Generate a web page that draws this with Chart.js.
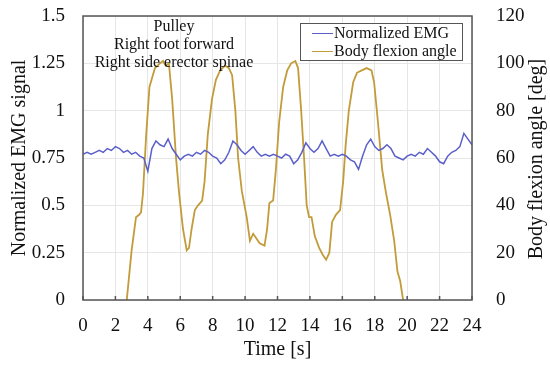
<!DOCTYPE html>
<html>
<head>
<meta charset="utf-8">
<script src="https://cdn.jsdelivr.net/npm/chart.js@4"></script>
<style>
  body { margin: 0; background: #fff; }
  #wrap { position: relative; width: 550px; height: 366px; }
  .note { position: absolute; font-family: "Liberation Serif", serif; font-size: 16px; color: #111; text-align: center; line-height: 18px; }
  #legend { position: absolute; left: 300px; top: 23px; width: 161px; height: 36px; border: 1px solid #555; background: #fff;
            font-family: "Liberation Serif", serif; font-size: 16px; color: #111; }
  #legend div { position: relative; height: 18px; line-height: 18px; padding-left: 33px; }
  #legend span { position: absolute; left: 11px; top: 9px; width: 21px; height: 0; border-top: 1.5px solid; }
  #rtitle { position: absolute; left: 535px; top: 159px; width: 260px; margin-left: -130px; margin-top: -11px; height: 22px; line-height: 22px;
            transform: rotate(-90deg); text-align: center; font-family: "Liberation Serif", serif; font-size: 20px; color: #111; white-space: nowrap; }
</style>
</head>
<body>
<div id="wrap">
  <canvas id="chart" width="550" height="366"></canvas>
  <div class="note" style="left:74px; top:17px; width:200px;">Pulley<br>Right foot forward<br>Right side erector spinae</div>
  <div id="legend">
    <div><span style="border-color:#5b5fc9"></span>Normalized EMG</div>
    <div><span style="border-color:#c29b3b"></span>Body flexion angle</div>
  </div>
  <div id="rtitle">Body flexion angle [deg]</div>
</div>
<script>
// time axis [s]
const xTicks = [0, 2, 4, 6, 8, 10, 12, 14, 16, 18, 20, 22, 24];
const emgTicks = [0, 0.25, 0.5, 0.75, 1, 1.25, 1.5];
const angleTicks = [0, 20, 40, 60, 80, 100, 120];

// normalized EMG, sampled every 0.25 s
const emgTime = [];
for (let i = 0; i <= 96; i++) emgTime.push(i * 0.25);
const emgValues = [
  0.77, 0.78, 0.77, 0.78, 0.79, 0.78, 0.80, 0.79, 0.81, 0.80, 0.78, 0.79,
  0.77, 0.78, 0.76, 0.75, 0.68, 0.80, 0.84, 0.82, 0.81, 0.85, 0.80, 0.77,
  0.74, 0.76, 0.77, 0.76, 0.78, 0.77, 0.79, 0.78, 0.76, 0.75, 0.72, 0.74,
  0.78, 0.84, 0.82, 0.79, 0.77, 0.79, 0.81, 0.78, 0.76, 0.77, 0.76, 0.77,
  0.76, 0.75, 0.77, 0.76, 0.72, 0.74, 0.78, 0.83, 0.80, 0.78, 0.80, 0.84,
  0.80, 0.76, 0.77, 0.76, 0.77, 0.76, 0.74, 0.73, 0.69, 0.76, 0.82, 0.85,
  0.81, 0.79, 0.80, 0.82, 0.80, 0.76, 0.75, 0.74, 0.76, 0.77, 0.76, 0.78,
  0.77, 0.80, 0.78, 0.76, 0.73, 0.72, 0.76, 0.78, 0.79, 0.81, 0.88, 0.85,
  0.82
];

// body flexion angle [deg]
const angleTime = [
  2.7, 3.0, 3.27, 3.46, 3.58, 3.7, 3.9, 4.1, 4.44, 4.75, 4.94, 5.1, 5.3, 5.5,
  5.74, 5.93, 6.17, 6.4, 6.54, 6.7, 6.9, 7.1, 7.35, 7.5, 7.7, 7.96, 8.2, 8.46,
  8.77, 9.0, 9.2, 9.4, 9.57, 9.8, 10.1, 10.3, 10.5, 10.7, 10.9, 11.2, 11.36,
  11.5, 11.73, 11.9, 12.1, 12.35, 12.6, 12.84, 13.1, 13.27, 13.46, 13.64, 13.8,
  13.95, 14.1, 14.3, 14.57, 14.8, 15.0, 15.2, 15.37, 15.6, 15.86, 16.05, 16.2,
  16.4, 16.67, 16.9, 17.2, 17.5, 17.8, 17.96, 18.2, 18.46, 18.7, 18.95, 19.2,
  19.4, 19.57, 19.75
];
const angleValues = [
  0, 21, 35, 36, 37, 45, 70, 90, 98, 100, 101, 99, 100, 85,
  60, 45, 30, 21, 22, 30, 38, 40, 42, 50, 70, 85, 93, 97,
  99, 98, 95, 80, 60, 46, 35, 25, 28, 26, 24, 23, 30,
  41, 42, 55, 75, 90, 97, 100, 101, 98, 80, 60, 40,
  35, 35, 27, 22, 19, 17, 20, 33, 36, 38, 50, 65,
  80, 92, 96, 97, 98, 97, 92, 75, 55, 45, 36, 25,
  12, 8, 0
];

const serif = '"Liberation Serif", "Times New Roman", serif';

const frame = {
  id: 'frame',
  afterDatasetsDraw(chart) {
    const a = chart.chartArea;
    const ctx = chart.ctx;
    ctx.save();
    ctx.strokeStyle = '#555';
    ctx.lineWidth = 1.5;
    ctx.strokeRect(a.left, a.top, a.right - a.left, a.bottom - a.top);
    // small inward ticks on the time axis
    const xs = chart.scales.x;
    ctx.beginPath();
    xTicks.forEach(v => {
      const px = xs.getPixelForValue(v);
      ctx.moveTo(px, a.bottom);
      ctx.lineTo(px, a.bottom - 4);
    });
    ctx.stroke();
    ctx.restore();
  }
};

// fixed box sizes so the plot area matches the original frame
const fitY = w => s => { s.width = w; s.paddingTop = 0; s.paddingBottom = 0; };

new Chart(document.getElementById('chart'), {
  type: 'line',
  data: {
    datasets: [
      {
        label: 'Normalized EMG',
        data: emgTime.map((t, i) => ({ x: t, y: emgValues[i] })),
        borderColor: '#5b5fc9',
        borderWidth: 1.5,
        pointRadius: 0,
        yAxisID: 'y'
      },
      {
        label: 'Body flexion angle',
        data: angleTime.map((t, i) => ({ x: t, y: angleValues[i] })),
        borderColor: '#c29b3b',
        borderWidth: 1.8,
        pointRadius: 0,
        yAxisID: 'y1'
      }
    ]
  },
  options: {
    responsive: false,
    animation: false,
    layout: { padding: { top: 16 } },
    plugins: { legend: { display: false }, tooltip: { enabled: false } },
    scales: {
      x: {
        type: 'linear', min: 0, max: 24,
        afterBuildTicks: s => { s.ticks = xTicks.map(v => ({ value: v })); },
        afterFit: s => { s.height = 66; s.paddingLeft = 0; s.paddingRight = 0; },
        grid: { color: '#e6e6e6', drawTicks: false },
        border: { display: false },
        ticks: { color: '#111', font: { family: serif, size: 19 }, padding: 15, maxRotation: 0 },
        title: { display: true, text: 'Time [s]', color: '#111', font: { family: serif, size: 20 }, padding: { top: 0 } }
      },
      y: {
        position: 'left', min: 0, max: 1.5,
        afterBuildTicks: s => { s.ticks = emgTicks.map(v => ({ value: v })); },
        afterFit: fitY(83),
        grid: { color: '#e6e6e6', drawTicks: false },
        border: { display: false },
        ticks: { color: '#111', font: { family: serif, size: 19 }, padding: 18, callback: v => String(v) },
        title: { display: true, text: 'Normalized EMG signal', color: '#111', font: { family: serif, size: 20 }, padding: { top: 8, bottom: 0 } }
      },
      y1: {
        position: 'right', min: 0, max: 120,
        afterBuildTicks: s => { s.ticks = angleTicks.map(v => ({ value: v })); },
        afterFit: fitY(78),
        grid: { display: false },
        border: { display: false },
        ticks: { color: '#111', font: { family: serif, size: 19 }, padding: 16 }
      }
    }
  },
  plugins: [frame]
});
</script>
</body>
</html>
